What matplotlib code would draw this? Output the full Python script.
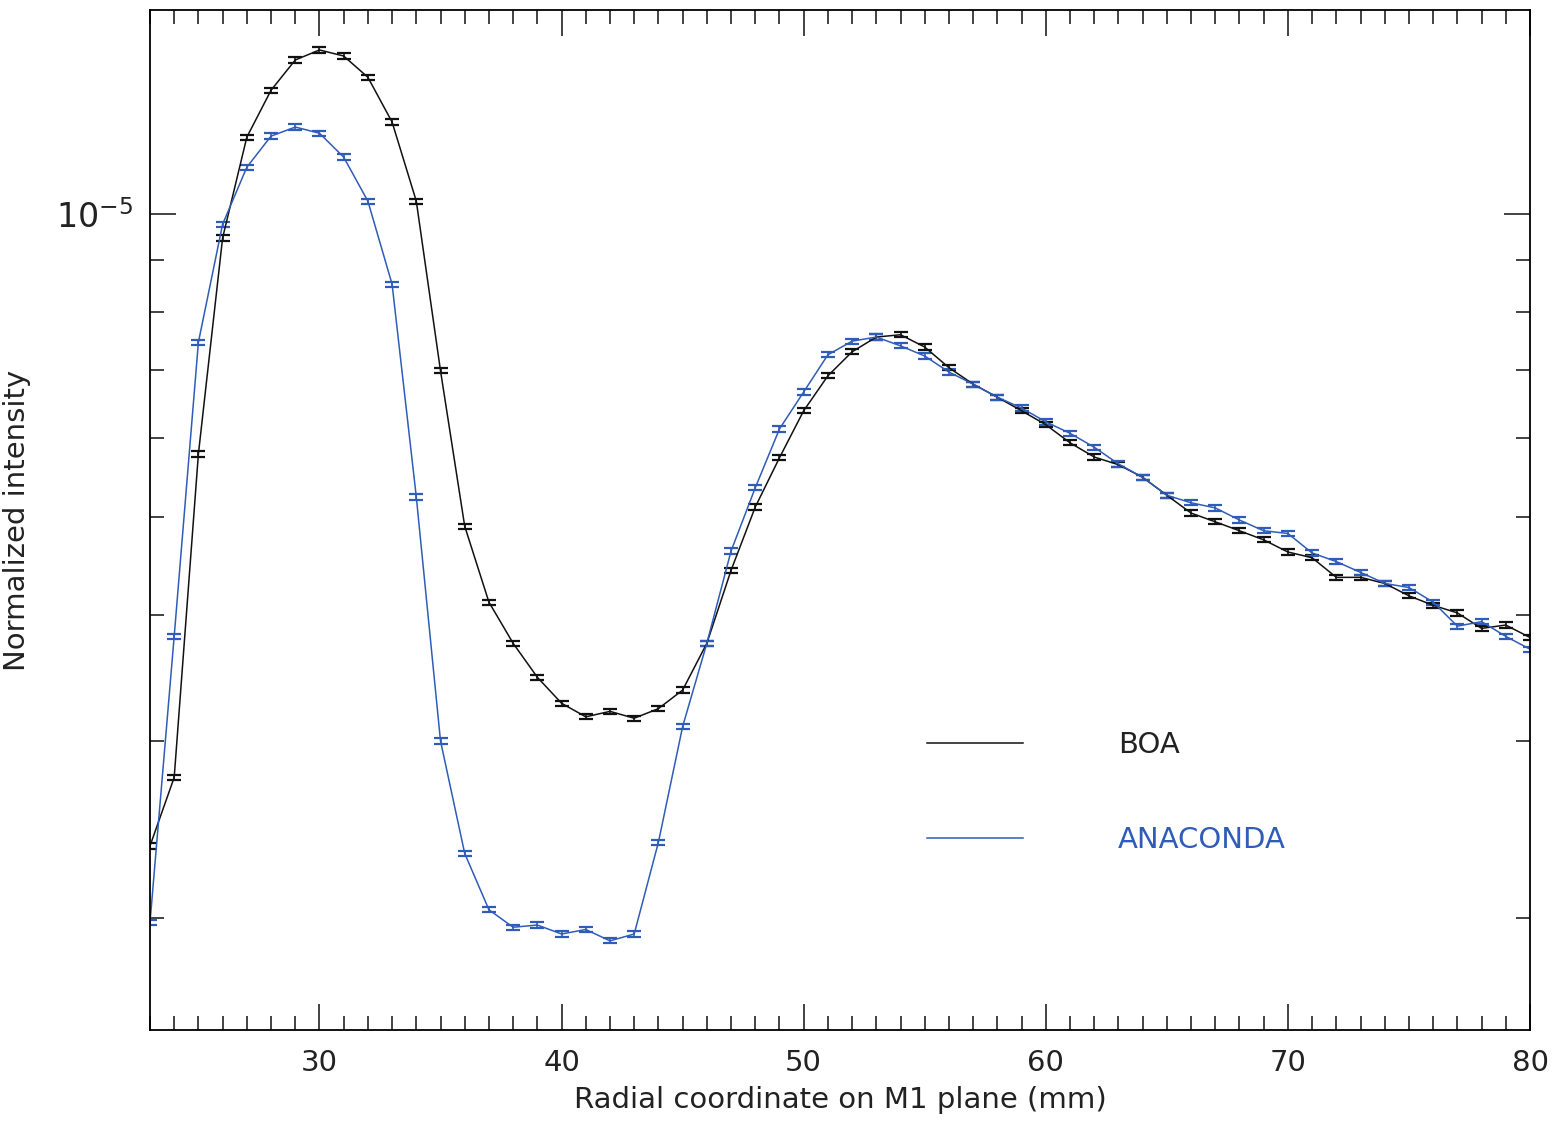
import numpy as np
import matplotlib
matplotlib.use("Agg")
import matplotlib.pyplot as plt
from matplotlib.ticker import MultipleLocator, LogLocator, NullFormatter, FixedLocator

# radial coordinate (mm)
radius = np.arange(23, 81)

# normalized intensity, units of 1e-6
boa = [2.36, 2.76, 5.78, 9.47, 11.92, 13.27, 14.22, 14.55, 14.35, 13.67,
       12.34, 10.30, 6.99, 4.90, 4.12, 3.75, 3.47, 3.27, 3.17, 3.21,
       3.16, 3.23, 3.37, 3.75, 4.43, 5.12, 5.73, 6.38, 6.91, 7.30,
       7.55, 7.59, 7.38, 7.04, 6.78, 6.58, 6.38, 6.18, 5.93, 5.74,
       5.64, 5.48, 5.26, 5.05, 4.95, 4.85, 4.75, 4.62, 4.56, 4.36,
       4.36, 4.30, 4.18, 4.09, 4.02, 3.88, 3.91, 3.80]
anaconda = [1.98, 3.81, 7.46, 9.77, 11.13, 11.95, 12.20, 12.03, 11.39, 10.30,
            8.52, 5.24, 3.00, 2.32, 2.04, 1.96, 1.97, 1.93, 1.95, 1.90,
            1.93, 2.38, 3.10, 3.75, 4.63, 5.35, 6.12, 6.66, 7.25, 7.48,
            7.55, 7.40, 7.23, 6.97, 6.78, 6.58, 6.42, 6.22, 6.06, 5.87,
            5.65, 5.48, 5.26, 5.17, 5.11, 4.97, 4.85, 4.82, 4.61, 4.52,
            4.41, 4.30, 4.26, 4.12, 3.90, 3.94, 3.81, 3.70]
rel_err = 0.006

boa = np.array(boa) * 1e-6
anaconda = np.array(anaconda) * 1e-6

BLUE = '#2e5cb8'
TXT = '#222222'

fig = plt.figure(figsize=(15.59, 11.27), dpi=100)
ax = fig.add_axes([0.0962, 0.0861, 0.8852, 0.905])

eb_boa = ax.errorbar(radius, boa, yerr=boa * rel_err, color='#111111', lw=1.1,
                     elinewidth=1.2, capsize=5, capthick=1.6)
eb_ana = ax.errorbar(radius, anaconda, yerr=anaconda * rel_err, color=BLUE, lw=1.1,
                     elinewidth=1.2, capsize=5, capthick=1.6)

ax.set_yscale('log')
ax.set_xlim(23, 80)
ax.set_ylim(1.55e-6, 1.594e-5)

ax.xaxis.set_major_locator(MultipleLocator(10))
ax.xaxis.set_minor_locator(MultipleLocator(1))
ax.yaxis.set_major_locator(FixedLocator([1e-5]))
ax.yaxis.set_minor_locator(LogLocator(base=10, subs=np.arange(2, 10)))
ax.yaxis.set_minor_formatter(NullFormatter())

ax.tick_params(which='both', direction='in', top=True, right=True,
               labelsize=21, colors=TXT, width=1.2)
ax.tick_params(which='major', length=19, pad=14)
ax.tick_params(which='minor', length=10)
ax.tick_params(axis='y', which='major', labelsize=24, pad=12)
for s in ax.spines.values():
    s.set_linewidth(1.3)

ax.set_xlabel('Radial coordinate on M1 plane (mm)', fontsize=21, color=TXT, labelpad=6)
ax.set_ylabel('Normalized intensity', fontsize=21, color=TXT, labelpad=18)

leg = ax.legend([eb_boa[0], eb_ana[0]], ['BOA', 'ANACONDA'], loc='center left',
                bbox_to_anchor=(0.563, 0.233), frameon=False, fontsize=21,
                handlelength=3.3, handletextpad=3.25, labelspacing=2.3,
                borderpad=0, borderaxespad=0)
leg.get_texts()[0].set_color(TXT)
leg.get_texts()[1].set_color(BLUE)

fig.savefig('out.png', dpi=100)
